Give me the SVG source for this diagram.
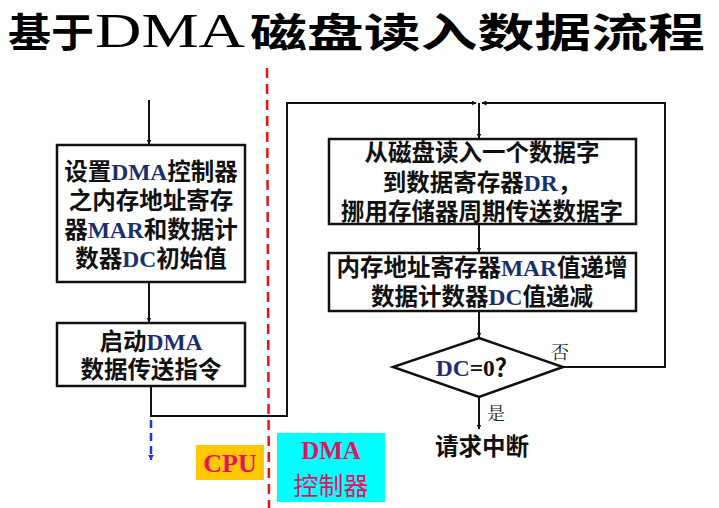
<svg xmlns="http://www.w3.org/2000/svg" width="719" height="508" viewBox="0 0 719 508">
<style>
.t{font-family:"Liberation Serif","Noto Sans CJK SC",serif;font-weight:bold;font-size:23.5px;fill:#111;text-anchor:middle}
.b{fill:#1a2f6e}
.box{fill:#fff;stroke:#111;stroke-width:2.5}
.ln{fill:none;stroke:#111;stroke-width:2}
.lbl{font-family:"Noto Serif CJK SC","Noto Sans CJK SC",serif;font-size:18px;fill:#222}
.ttl{font-family:"Noto Sans CJK SC",sans-serif;font-weight:bold;font-size:40px;fill:#000}
</style>
<defs>
<marker id="ah" viewBox="0 0 10 10" refX="9" refY="5" markerWidth="5" markerHeight="5" orient="auto-start-reverse" markerUnits="userSpaceOnUse"><path d="M0,0 L10,5 L0,10 z" fill="#111"/></marker>
<marker id="ahb" viewBox="0 0 10 10" refX="9" refY="5" markerWidth="6" markerHeight="6" orient="auto" markerUnits="userSpaceOnUse"><path d="M0,0 L10,5 L0,10 z" fill="#1a3adf"/></marker>
</defs>
<rect width="719" height="508" fill="#fff"/>
<g id="title">
<text class="ttl" x="8" y="47" textLength="86" lengthAdjust="spacingAndGlyphs">基于</text>
<text x="95" y="47" font-family="Liberation Serif,serif" font-size="48" fill="#000" textLength="150" lengthAdjust="spacingAndGlyphs">DMA</text>
<text class="ttl" x="250" y="47" textLength="455" lengthAdjust="spacingAndGlyphs">磁盘读入数据流程</text>
</g>
<g id="divider">
<line x1="267" y1="68" x2="269" y2="508" stroke="#ee1111" stroke-width="2.5" stroke-dasharray="10,6"/>
</g>
<g id="connectors">
<line class="ln" x1="149" y1="100" x2="149" y2="144" marker-end="url(#ah)"/>
<line class="ln" x1="149" y1="282" x2="149" y2="322" marker-end="url(#ah)"/>
<polyline class="ln" points="151,386 151,416 287,416 287,103 476,103" marker-end="url(#ah)"/>
<polyline class="ln" points="563,367 665,367 665,103 482,103" marker-end="url(#ah)"/>
<line class="ln" x1="479" y1="103" x2="479" y2="138" marker-end="url(#ah)"/>
<line class="ln" x1="479" y1="224" x2="479" y2="252" marker-end="url(#ah)"/>
<line class="ln" x1="479" y1="311" x2="479" y2="337" marker-end="url(#ah)"/>
<line class="ln" x1="479" y1="397" x2="479" y2="429" marker-end="url(#ah)"/>
<line x1="151" y1="420" x2="151" y2="460" stroke="#1a3adf" stroke-width="2.5" stroke-dasharray="8,5" marker-end="url(#ahb)"/>
<text class="lbl" x="551" y="359">否</text>
<text class="lbl" x="487" y="420">是</text>
</g>
<g id="n1">
<rect class="box" x="57" y="145" width="188" height="137"/>
<text class="t" x="151" y="180">设置<tspan class="b">DMA</tspan>控制器</text>
<text class="t" x="151" y="209">之内存地址寄存</text>
<text class="t" x="151" y="238">器<tspan class="b">MAR</tspan>和数据计</text>
<text class="t" x="151" y="267">数器<tspan class="b">DC</tspan>初始值</text>
</g>
<g id="n2">
<rect class="box" x="57" y="323" width="188" height="63"/>
<text class="t" x="151" y="350">启动<tspan class="b">DMA</tspan></text>
<text class="t" x="151" y="378">数据传送指令</text>
</g>
<g id="n3">
<rect class="box" x="329" y="139" width="307" height="85"/>
<text class="t" x="482" y="161">从磁盘读入一个数据字</text>
<text class="t" x="482" y="191">到数据寄存器<tspan class="b">DR</tspan>，</text>
<text class="t" x="482" y="220">挪用存储器周期传送数据字</text>
</g>
<g id="n4">
<rect class="box" x="329" y="253" width="307" height="58"/>
<text class="t" x="482" y="276">内存地址寄存器<tspan class="b">MAR</tspan>值递增</text>
<text class="t" x="482" y="305">数据计数器<tspan class="b">DC</tspan>值递减</text>
</g>
<g id="n5">
<polygon class="box" points="479,338 563,367 479,397 393,367"/>
<text class="t" x="477" y="376"><tspan class="b">DC</tspan>=0？</text>
</g>
<g id="n6">
<text class="t" x="482" y="455">请求中断</text>
</g>
<g id="cpu">
<rect x="196" y="445" width="68" height="35" fill="#ffc800"/>
<text x="230" y="472" font-family="Liberation Serif,serif" font-weight="bold" font-size="26" fill="#e8105f" text-anchor="middle">CPU</text>
</g>
<g id="dma">
<rect x="277" y="433" width="108" height="69" fill="#00ffff"/>
<text x="331" y="459" font-family="Liberation Serif,serif" font-weight="bold" font-size="25" fill="#e8105f" text-anchor="middle">DMA</text>
<text x="331" y="495" font-family="Noto Sans CJK SC,sans-serif" font-size="25" fill="#e8105f" text-anchor="middle">控制器</text>
</g>
</svg>
